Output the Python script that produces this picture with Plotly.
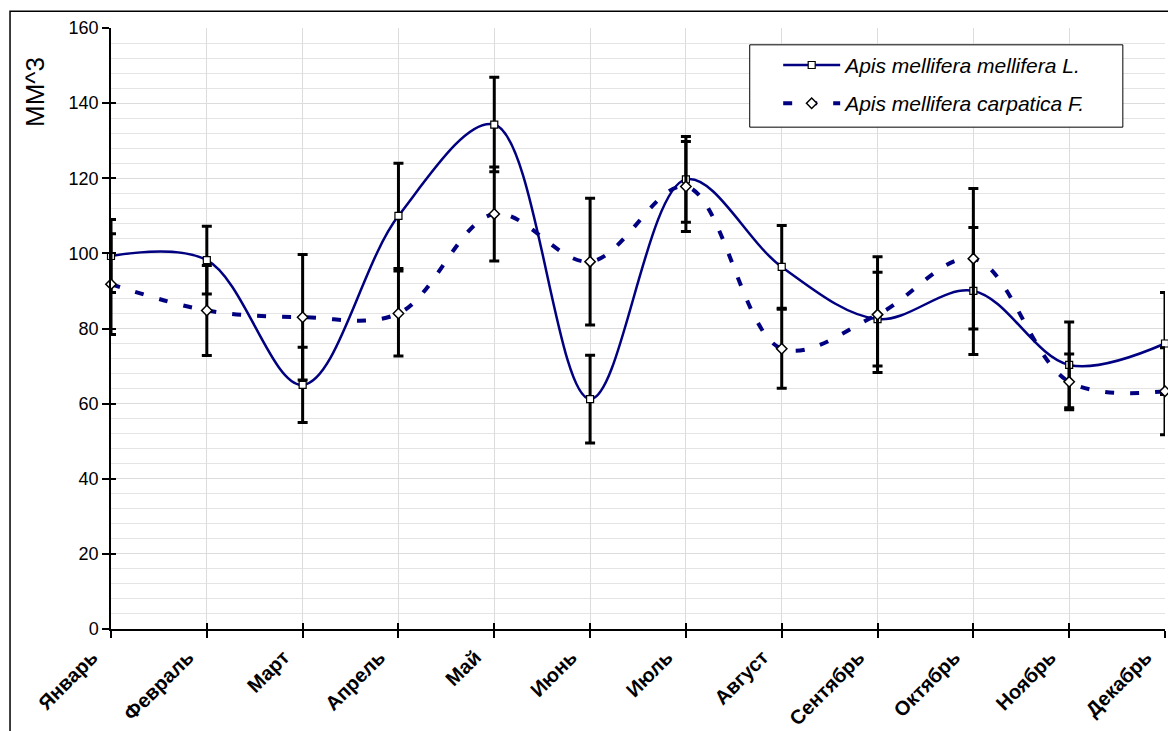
import plotly.graph_objects as go

months = ["Январь", "Февраль", "Март", "Апрель", "Май", "Июнь",
          "Июль", "Август", "Сентябрь", "Октябрь", "Ноябрь", "Декабрь"]
mellifera = [99.3, 98.2, 65.0, 110.0, 134.3, 61.2, 119.7, 96.4, 82.5, 90.0, 70.3, 76.0]
mellifera_err = [9.7, 9.0, 10.0, 14.0, 12.6, 11.7, 11.4, 11.0, 12.5, 16.9, 11.4, 13.6]
carpatica = [91.8, 84.8, 83.0, 84.0, 110.5, 97.8, 117.8, 74.6, 83.7, 98.6, 65.8, 63.3]
carpatica_err = [13.4, 12.0, 16.7, 11.3, 12.5, 16.9, 12.0, 10.5, 15.4, 18.7, 7.4, 11.6]
y_title = "MM^3"

NAVY = "#000080"
FONT = "Liberation Sans, Arial, sans-serif"

fig = go.Figure()
fig.add_trace(go.Scatter(
    x=months, y=mellifera, name="<i>Apis mellifera mellifera L.</i>",
    legendgroup="a",
    mode="lines+markers",
    line=dict(color=NAVY, width=2.5, shape="spline", smoothing=1),
    marker=dict(symbol="square", size=7, color="white", line=dict(color="black", width=1.2)),
    error_y=dict(type="data", array=mellifera_err, visible=True, color="black", thickness=3, width=5),
    cliponaxis=False,
))
fig.add_trace(go.Scatter(
    x=months, y=carpatica, name="<i>Apis mellifera carpatica F.</i>",
    legendgroup="b",
    mode="lines+markers",
    line=dict(color=NAVY, width=4, shape="spline", smoothing=1, dash="9px,16px"),
    marker=dict(symbol="diamond", size=8, color="white", line=dict(color="black", width=1.5)),
    error_y=dict(type="data", array=carpatica_err, visible=True, color="black", thickness=3, width=5),
    cliponaxis=False,
))

# invisible helper trace for the inner half of the cross ticks
fig.add_trace(go.Scatter(x=months, y=mellifera, xaxis="x2", yaxis="y2", mode="none",
                         showlegend=False, hoverinfo="skip"))

fig.update_layout(
    width=1168, height=731,
    margin=dict(l=111, r=3, t=28, b=102, autoexpand=False),
    paper_bgcolor="white", plot_bgcolor="white",
    font=dict(family=FONT, color="black"),
    showlegend=True,
    legend=dict(
        x=0.633, y=0.972, xanchor="left", yanchor="top",
        bgcolor="rgba(0,0,0,0)", borderwidth=0,
        font=dict(family=FONT, size=21, color="black"),
        itemwidth=57, tracegroupgap=8, traceorder="grouped",
    ),
    xaxis=dict(
        range=[0, 11], showgrid=True, gridcolor="#dcdcdc", gridwidth=1,
        showline=True, linecolor="black", linewidth=1.5,
        ticks="outside", ticklen=7, tickcolor="black", tickwidth=1.5,
        tickangle=-45, tickfont=dict(family=FONT, size=20, color="black", weight="bold"),
        ticklabelstandoff=0, ticklabelshift=-19, zeroline=False, automargin=False,
    ),
    yaxis=dict(
        range=[0, 160], dtick=20, showgrid=True, gridcolor="#dcdcdc", gridwidth=1,
        minor=dict(dtick=4, showgrid=True, gridcolor="#e4e4e4", gridwidth=1),
        showline=True, linecolor="black", linewidth=1.5,
        ticks="outside", ticklen=7, tickcolor="black", tickwidth=1.5,
        tickfont=dict(family=FONT, size=18, color="black"), zeroline=False, automargin=False,
    ),
    xaxis2=dict(overlaying="x", matches="x", range=[0, 11], showgrid=False, showline=False,
                ticks="inside", ticklen=6, tickcolor="black", tickwidth=1.5,
                showticklabels=False, side="bottom", anchor="y2", automargin=False),
    yaxis2=dict(overlaying="y", range=[0, 160], dtick=20, showgrid=False, showline=False,
                ticks="inside", ticklen=5, tickcolor="black", tickwidth=1.5,
                showticklabels=False, side="left", anchor="x2", automargin=False),
    annotations=[dict(
        text=y_title, xref="paper", yref="paper", x=-0.0721, y=0.8935,
        xanchor="center", yanchor="middle",
        textangle=-90, showarrow=False, font=dict(family=FONT, size=26, color="black"),
    )],
    shapes=[
        dict(type="rect", xref="paper", yref="paper", x0=-0.0958, x1=1.2, y0=-0.35, y1=1.028,
             line=dict(color="black", width=1.5), fillcolor="rgba(0,0,0,0)", layer="above"),
        dict(type="rect", xref="paper", yref="paper", x0=0.606, x1=0.960, y0=0.835, y1=0.972,
             line=dict(color="black", width=1), fillcolor="white", layer="above"),
    ],
)

fig.write_html("out.html", config={"displayModeBar": False},
               post_script="document.body.style.margin='0';")
